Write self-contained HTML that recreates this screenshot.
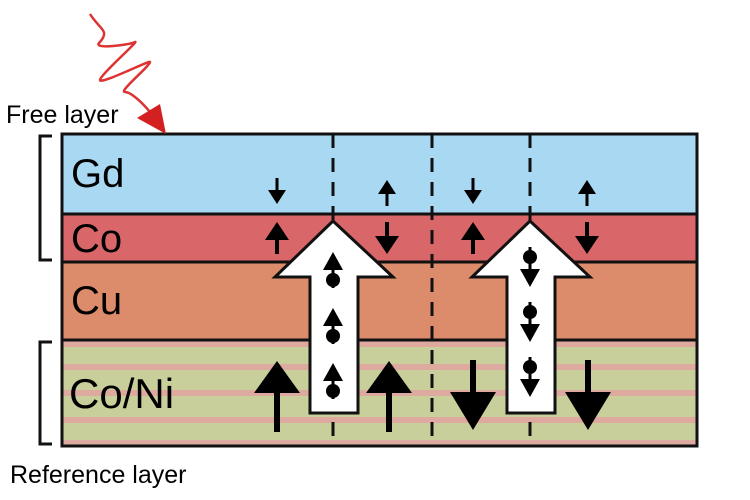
<!DOCTYPE html>
<html><head><style>body{margin:0;background:#fff}svg{display:block}</style></head><body>
<svg width="750" height="500" viewBox="0 0 750 500" xmlns="http://www.w3.org/2000/svg" font-family="Liberation Sans, sans-serif">
<defs>
<g id="spinU"><polygon points="0,-12 -10,6 10,6" fill="#000"/><circle cx="0" cy="16" r="7" fill="#000"/><rect x="-1.5" y="-2" width="3" height="26" fill="#000"/></g>
<g id="spinD"><circle cx="0" cy="-6" r="7" fill="#000"/><polygon points="0,24 -10,6 10,6" fill="#000"/><rect x="-1.5" y="-16" width="3" height="26" fill="#000"/></g>
</defs>
<rect x="62" y="134" width="635" height="80" fill="#a9d8f2"/>
<rect x="62" y="214" width="635" height="48" fill="#d9676a"/>
<rect x="62" y="262" width="635" height="78" fill="#dc8c6a"/>
<rect x="62" y="340" width="635" height="106" fill="#c9cf9a"/>
<g fill="#deaaa0">
<rect x="62" y="341" width="635" height="6"/><rect x="62" y="364" width="635" height="6"/><rect x="62" y="390" width="635" height="6"/><rect x="62" y="417" width="635" height="6"/><rect x="62" y="440" width="635" height="6"/>
</g>
<g stroke="#111" stroke-width="3" fill="none">
<rect x="62" y="134" width="635" height="312"/>
<line x1="62" y1="214" x2="697" y2="214"/><line x1="62" y1="262" x2="697" y2="262"/><line x1="62" y1="340" x2="697" y2="340"/>
<g stroke-dasharray="14,10"><line x1="333" y1="134" x2="333" y2="446"/><line x1="432" y1="134" x2="432" y2="446"/><line x1="530" y1="134" x2="530" y2="446"/></g>
<polyline points="52,136 40,136 40,260 52,260"/>
<polyline points="52,342 40,342 40,444 52,444"/>
</g>
<text x="71" y="187" font-size="40">Gd</text>
<text x="71" y="252" font-size="40">Co</text>
<text x="71" y="314" font-size="40">Cu</text>
<text x="69" y="408" font-size="42">Co/Ni</text>
<text x="6" y="123" font-size="25">Free layer</text>
<text x="10" y="483" font-size="25">Reference layer</text>
<polygon points="333,221 393,277 358,277 358,413 310,413 310,277 275,277" fill="#fff" stroke="#111" stroke-width="3"/>
<polygon points="530,221 590,277 555,277 555,413 507,413 507,277 472,277" fill="#fff" stroke="#111" stroke-width="3"/>
<use href="#spinU" x="333" y="264"/><use href="#spinU" x="333" y="320"/><use href="#spinU" x="333" y="375"/>
<use href="#spinD" x="530" y="263"/><use href="#spinD" x="530" y="318"/><use href="#spinD" x="530" y="373"/>
<g fill="#000">
<rect x="275.5" y="178" width="3" height="16"/><polygon points="268,190 286,190 277,204"/>
<rect x="385.5" y="190" width="3" height="16"/><polygon points="378,194 396,194 387,180"/>
<rect x="471.5" y="178" width="3" height="16"/><polygon points="464,190 482,190 473,204"/>
<rect x="585.5" y="190" width="3" height="16"/><polygon points="578,194 596,194 587,180"/>
<rect x="275" y="236" width="4" height="18"/><polygon points="265,240 289,240 277,222"/>
<rect x="385" y="222" width="4" height="18"/><polygon points="375,236 399,236 387,254"/>
<rect x="471" y="236" width="4" height="18"/><polygon points="461,240 485,240 473,222"/>
<rect x="585" y="222" width="4" height="18"/><polygon points="575,236 599,236 587,254"/>
<rect x="274" y="390" width="6" height="42"/><polygon points="254,393 300,393 277,361"/>
<rect x="386" y="390" width="6" height="42"/><polygon points="366,393 412,393 389,361"/>
<rect x="470" y="360" width="6" height="42"/><polygon points="450,392 496,392 473,430"/>
<rect x="585" y="360" width="6" height="42"/><polygon points="565,392 611,392 588,430"/>
</g>
<path d="M90,14 C100,30 110,30 100,42 C90,50 130,45 135,42 C140,40 100,75 100,80 C100,85 150,60 150,62 C150,66 118,92 125,92 C130,92 140,100 150,112" fill="none" stroke="#d33" stroke-width="2.5"/>
<polygon points="137,118 160,104 166,134" fill="#d32020"/>
</svg>
</body></html>
